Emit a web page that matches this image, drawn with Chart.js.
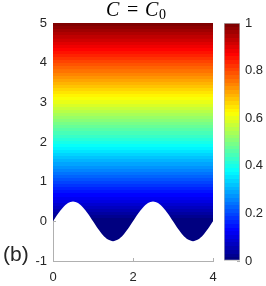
<!DOCTYPE html>
<html>
<head>
<meta charset="utf-8">
<script src="https://cdn.jsdelivr.net/npm/chart.js@4/dist/chart.umd.min.js"></script>
<style>
  html, body { margin: 0; padding: 0; background: #fff; }
  #wrap { position: relative; width: 266px; height: 286px; }
  #wrap canvas { position: absolute; left: 0; top: 0; }
</style>
</head>
<body>
<div id="wrap">
  <canvas id="main" width="266" height="286"></canvas>
  <canvas id="cbar" width="266" height="286"></canvas>
</div>
<script>
// surface h(x)
const surfaceX = [0, 0.125, 0.25, 0.375, 0.5, 0.625, 0.75, 0.875, 1,
  1.125, 1.25, 1.375, 1.5, 1.625, 1.75, 1.875, 2,
  2.125, 2.25, 2.375, 2.5, 2.625, 2.75, 2.875, 3,
  3.125, 3.25, 3.375, 3.5, 3.625, 3.75, 3.875, 4];
const surfaceY = [0, 0.19, 0.35, 0.46, 0.5, 0.46, 0.35, 0.19, 0,
  -0.19, -0.35, -0.46, -0.5, -0.46, -0.35, -0.19, 0,
  0.19, 0.35, 0.46, 0.5, 0.46, 0.35, 0.19, 0,
  -0.19, -0.35, -0.46, -0.5, -0.46, -0.35, -0.19, 0];

// C goes from 0 at y=0 to 1 at y=5
const fieldY = [0, 5];
const fieldC = [0, 1];

const xTicks = [0, 2, 4];
const yTicks = [-1, 0, 1, 2, 3, 4, 5];
const cTicks = [0, 0.2, 0.4, 0.6, 0.8, 1];

const nLevels = 64;
const textColor = '#262626';
const axisColor = '#b0b0b0';
const tickFont = { family: 'Liberation Sans, Arial, sans-serif', size: 13 };

function jet(t) {
  const f = v => Math.round(255 * Math.max(0, Math.min(1, v)));
  return 'rgb(' + f(1.5 - Math.abs(4 * t - 3)) + ',' + f(1.5 - Math.abs(4 * t - 2)) + ',' + f(1.5 - Math.abs(4 * t - 1)) + ')';
}

function jetGradient(c, yScale, v0, v1) {
  const g = c.createLinearGradient(0, yScale.getPixelForValue(v0), 0, yScale.getPixelForValue(v1));
  for (let i = 0; i < nLevels; i++) {
    const col = jet(i / (nLevels - 1));
    g.addColorStop(i / nLevels, col);
    g.addColorStop(Math.min(1, (i + 1) / nLevels - 0.0001), col);
  }
  return g;
}

// MATLAB style inward ticks, drawn under the data
const innerTicks = {
  id: 'innerTicks',
  beforeDatasetsDraw(chart) {
    const c = chart.ctx, a = chart.chartArea;
    c.save();
    c.strokeStyle = axisColor;
    c.lineWidth = 1;
    c.beginPath();
    Object.values(chart.scales).forEach(s => {
      if (!s.options.display) return;
      s.ticks.forEach(t => {
        const p = Math.round(s.getPixelForValue(t.value)) + 0.5;
        if (s.axis === 'x') { c.moveTo(p, a.bottom); c.lineTo(p, a.bottom - 3); }
        else if (s.position === 'left') { c.moveTo(a.left, p); c.lineTo(a.left + 3, p); }
        else { c.moveTo(a.right, p); c.lineTo(a.right - 3, p); }
      });
    });
    c.stroke();
    c.restore();
  }
};

const labels = {
  id: 'labels',
  afterDraw(chart) {
    const c = chart.ctx, a = chart.chartArea;
    const x0 = (a.left + a.right) / 2 - 27;
    c.save();
    c.fillStyle = '#000';
    c.textBaseline = 'alphabetic';
    c.font = 'italic 20px "Liberation Serif", "Times New Roman", serif';
    c.fillText('C', x0, 16);
    c.fillText('C', x0 + 39, 16);
    c.font = '20px "Liberation Serif", "Times New Roman", serif';
    c.fillText('=', x0 + 21, 16);
    c.font = '14px "Liberation Serif", "Times New Roman", serif';
    c.fillText('0', x0 + 53, 19);
    c.fillStyle = textColor;
    c.font = '21px "Liberation Sans", Arial, sans-serif';
    c.fillText('(b)', 3, 261);
    c.restore();
  }
};

new Chart(document.getElementById('main'), {
  type: 'line',
  data: {
    datasets: [{
      data: surfaceX.map((x, i) => ({ x: x, y: surfaceY[i] })),
      fill: 'end',
      borderWidth: 0,
      pointRadius: 0,
      tension: 0.3,
      backgroundColor: ctx => {
        const ch = ctx.chart;
        if (!ch.chartArea) return 'rgba(0,0,0,0)';
        return jetGradient(ch.ctx, ch.scales.y, fieldY[0], fieldY[1]);
      }
    }]
  },
  options: {
    responsive: false,
    devicePixelRatio: 1,
    animation: false,
    events: [],
    layout: { padding: { left: 0, right: 53, top: 23, bottom: 0 } },
    plugins: { legend: { display: false }, tooltip: { enabled: false }, title: { display: false } },
    scales: {
      x: {
        type: 'linear', min: 0, max: 4,
        afterBuildTicks: s => { s.ticks = xTicks.map(v => ({ value: v })); },
        afterFit: s => { s.height = 25; },
        grid: { drawOnChartArea: false, drawTicks: false },
        border: { color: axisColor },
        ticks: { font: tickFont, color: textColor, padding: 9, callback: v => String(v) }
      },
      y: {
        type: 'linear', min: -1, max: 5,
        afterBuildTicks: s => { s.ticks = yTicks.map(v => ({ value: v })); },
        afterFit: s => { s.width = 53; },
        grid: { drawOnChartArea: false, drawTicks: false },
        border: { color: axisColor },
        ticks: { font: tickFont, color: textColor, padding: 6, callback: v => String(v) }
      }
    }
  },
  plugins: [innerTicks, labels]
});

new Chart(document.getElementById('cbar'), {
  type: 'bar',
  data: {
    labels: ['C'],
    datasets: [{
      data: [[fieldC[0], fieldC[1]]],
      barPercentage: 1,
      categoryPercentage: 1,
      borderSkipped: false,
      borderWidth: 1,
      borderColor: axisColor,
      backgroundColor: ctx => {
        const ch = ctx.chart;
        if (!ch.chartArea) return 'rgba(0,0,0,0)';
        return jetGradient(ch.ctx, ch.scales.y, fieldC[0], fieldC[1]);
      }
    }]
  },
  options: {
    responsive: false,
    devicePixelRatio: 1,
    animation: false,
    events: [],
    layout: { padding: { left: 224, right: 0, top: 23, bottom: 25 } },
    plugins: { legend: { display: false }, tooltip: { enabled: false } },
    scales: {
      x: { display: false },
      y: {
        position: 'right', min: 0, max: 1,
        afterBuildTicks: s => { s.ticks = cTicks.map(v => ({ value: v })); },
        afterFit: s => { s.width = 26; },
        grid: { drawOnChartArea: false, drawTicks: false },
        border: { display: false },
        ticks: { font: tickFont, color: textColor, padding: 5, callback: v => String(v) }
      }
    }
  },
  plugins: [innerTicks]
});
</script>
</body>
</html>
